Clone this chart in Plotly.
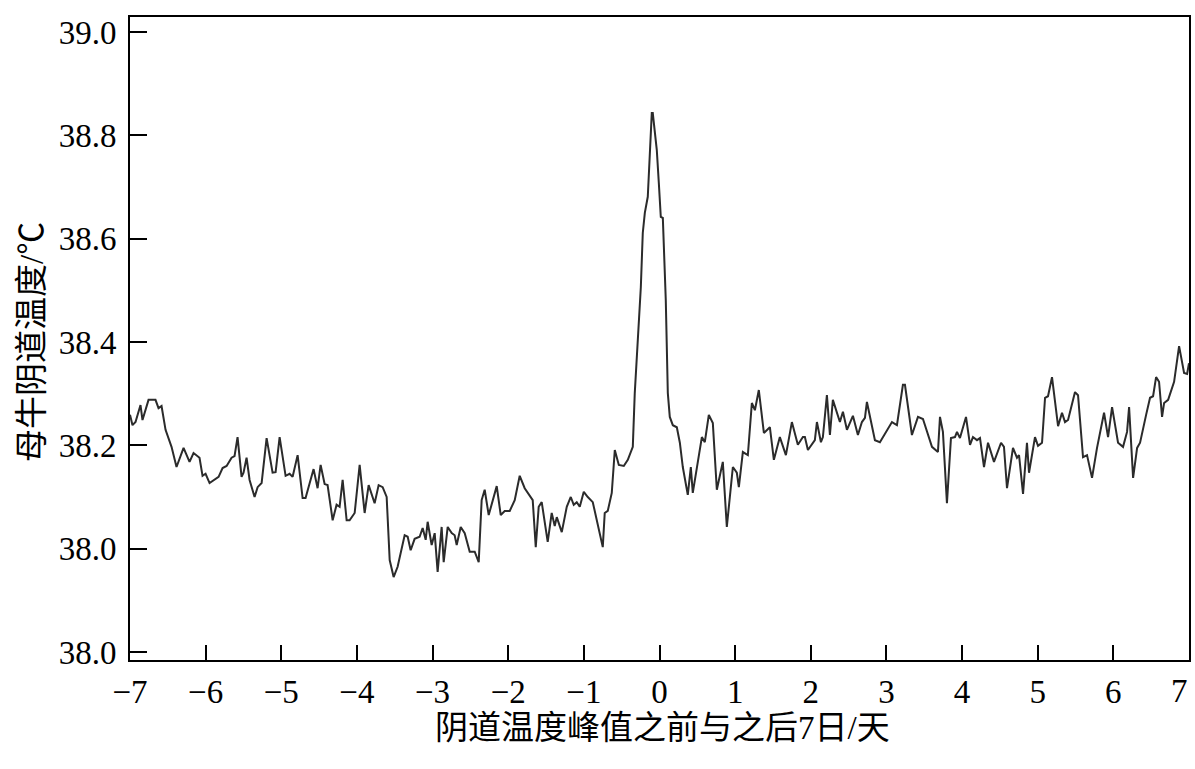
import plotly.graph_objects as go

# ---- data (days relative to temperature peak, vaginal temperature in degC)
days_pre = [-7.0, -6.967, -6.927, -6.861, -6.835, -6.755, -6.663, -6.623, -6.583, -6.530, -6.451, -6.385,
            -6.292, -6.213, -6.160, -6.081, -6.041, -6.001, -5.948, -5.856, -5.829, -5.776, -5.723, -5.657,
            -5.618, -5.578, -5.525, -5.499, -5.459, -5.419, -5.353, -5.313, -5.260, -5.194, -5.115, -5.075,
            -5.022, -4.943, -4.890, -4.850, -4.784,
            -4.718, -4.679, -4.573, -4.520, -4.480, -4.427, -4.388, -4.321, -4.269, -4.229, -4.189, -4.136,
            -4.097, -4.030, -3.964, -3.898, -3.845, -3.766, -3.713, -3.660, -3.607, -3.567, -3.515, -3.462,
            -3.369, -3.329, -3.290, -3.237, -3.171, -3.131, -3.091, -3.065, -3.012, -2.972, -2.933, -2.880,
            -2.853, -2.800, -2.747, -2.708, -2.681, -2.628, -2.575, -2.509,
            -2.443, -2.390, -2.351, -2.311, -2.258, -2.152, -2.099, -2.046, -1.980, -1.914, -1.848, -1.782,
            -1.676, -1.636, -1.597, -1.557, -1.478, -1.425, -1.385, -1.358, -1.292, -1.226, -1.173, -1.134,
            -1.094, -1.054, -1.001, -0.948, -0.882, -0.829, -0.750, -0.724, -0.684, -0.631, -0.591, -0.538,
            -0.472, -0.419, -0.353, -0.327]
temp_pre = [38.259, 38.239, 38.245, 38.278, 38.249, 38.288, 38.288, 38.272, 38.276, 38.230, 38.197, 38.158,
            38.195, 38.168, 38.185, 38.176, 38.141, 38.145, 38.127, 38.137, 38.139, 38.156, 38.160, 38.176,
            38.179, 38.216, 38.139, 38.147, 38.176, 38.133, 38.100, 38.119, 38.127, 38.214, 38.147, 38.148,
            38.216, 38.141, 38.145, 38.139, 38.181,
            38.098, 38.098, 38.154, 38.117, 38.162, 38.125, 38.123, 38.055, 38.085, 38.081, 38.133, 38.055,
            38.055, 38.069, 38.162, 38.069, 38.123, 38.088, 38.123, 38.119, 38.100, 37.978, 37.945, 37.965,
            38.026, 38.023, 37.997, 38.019, 38.023, 38.040, 38.017, 38.052, 38.007, 38.030, 37.955, 38.042,
            37.974, 38.042, 38.030, 38.026, 38.007, 38.042, 38.030, 37.994,
            37.994, 37.974, 38.094, 38.114, 38.065, 38.121, 38.065, 38.073, 38.073, 38.094, 38.141, 38.117,
            38.094, 38.003, 38.081, 38.090, 38.013, 38.069, 38.044, 38.061, 38.032, 38.081, 38.100, 38.085,
            38.090, 38.081, 38.110, 38.100, 38.090, 38.055, 38.003, 38.069, 38.073, 38.108, 38.191, 38.162,
            38.160, 38.172, 38.197, 38.301]

days_peak = [-0.287, -0.247, -0.221, -0.194, -0.155, -0.128, -0.102, -0.089, -0.036, -0.009, 0.017, 0.044,
             0.083, 0.110, 0.136, 0.176, 0.229, 0.269, 0.308, 0.374, 0.414, 0.440, 0.493, 0.560, 0.599, 0.652]
temp_peak = [38.417, 38.506, 38.611, 38.650, 38.681, 38.752, 38.843, 38.843, 38.772, 38.708, 38.642, 38.640,
             38.481, 38.301, 38.255, 38.239, 38.235, 38.205, 38.158, 38.104, 38.158, 38.108, 38.152, 38.216,
             38.206, 38.259]

days_post = [0.705, 0.758, 0.837, 0.890, 0.970, 1.022, 1.049, 1.102, 1.168, 1.221, 1.261, 1.313, 1.380,
             1.459, 1.512, 1.591, 1.671, 1.750, 1.829, 1.896, 1.922, 1.962, 2.054, 2.081, 2.134, 2.160,
             2.213, 2.253, 2.292, 2.385, 2.425, 2.478, 2.557, 2.623, 2.676, 2.716, 2.742,
             2.848, 2.914, 3.073, 3.139, 3.218, 3.245, 3.337, 3.417, 3.483, 3.602, 3.681, 3.708, 3.747,
             3.800, 3.853, 3.906, 3.933, 3.972, 4.052, 4.105, 4.144, 4.197, 4.237, 4.290, 4.343, 4.422,
             4.515, 4.554, 4.594, 4.673, 4.726, 4.753, 4.806, 4.858, 4.885,
             4.964, 5.004, 5.057, 5.097, 5.136, 5.189, 5.269, 5.321, 5.361, 5.401, 5.493, 5.533, 5.599,
             5.652, 5.718, 5.784, 5.877, 5.930, 5.983, 6.062, 6.128, 6.181, 6.208, 6.261, 6.314, 6.353,
             6.433, 6.485, 6.525, 6.565, 6.604, 6.644, 6.671, 6.724, 6.803, 6.869, 6.935, 6.975, 7.0]
temp_post = [38.243, 38.114, 38.168, 38.042, 38.158, 38.147, 38.119, 38.187, 38.181, 38.282, 38.268, 38.307,
             38.224, 38.235, 38.172, 38.216, 38.181, 38.245, 38.201, 38.216, 38.216, 38.191, 38.210, 38.245,
             38.206, 38.216, 38.297, 38.220, 38.288, 38.245, 38.265, 38.230, 38.257, 38.220, 38.245, 38.253,
             38.284,
             38.210, 38.206, 38.245, 38.239, 38.317, 38.317, 38.220, 38.255, 38.251, 38.197, 38.187, 38.255,
             38.226, 38.088, 38.214, 38.216, 38.226, 38.214, 38.255, 38.201, 38.216, 38.210, 38.214, 38.158,
             38.205, 38.168, 38.205, 38.197, 38.117, 38.195, 38.176, 38.181, 38.106, 38.205, 38.147,
             38.216, 38.199, 38.205, 38.292, 38.295, 38.332, 38.237, 38.263, 38.245, 38.249, 38.303, 38.297,
             38.177, 38.181, 38.137, 38.195, 38.263, 38.216, 38.274, 38.205, 38.197, 38.226, 38.274, 38.137,
             38.195, 38.205, 38.259, 38.292, 38.295, 38.332, 38.323, 38.255, 38.282, 38.288, 38.323, 38.392,
             38.340, 38.338, 38.359]

x_ticks = [-7, -6, -5, -4, -3, -2, -1, 0, 1, 2, 3, 4, 5, 6, 7]
x_ticktext = ["\u22127", "\u22126", "\u22125", "\u22124", "\u22123", "\u22122", "\u22121",
              "0", "1", "2", "3", "4", "5", "6", ""]
x_last_label = "7"   # the last label sits just inside the right edge, as in the reference
y_tickvals = [37.8, 38.0, 38.2, 38.4, 38.6, 38.8, 39.0]
y_ticktext = ["38.0", "38.0", "38.2", "38.4", "38.6", "38.8", "39.0"]

x_title = "阴道温度峰值之前与之后7日/天"
y_title = "母牛阴道温度/℃"

days = days_pre + days_peak + days_post
temp = temp_pre + temp_peak + temp_post

FONT = "Liberation Serif, Times New Roman, Noto Sans CJK SC, serif"

fig = go.Figure()
fig.add_trace(go.Scatter(x=days, y=temp, mode="lines",
                         line=dict(color="#2b2b2b", width=2), showlegend=False,
                         hoverinfo="x+y"))

fig.update_layout(
    width=1195, height=769,
    margin=dict(l=130, r=6, t=17, b=109, autoexpand=False),
    paper_bgcolor="white", plot_bgcolor="white",
    font=dict(family=FONT, size=33, color="black"),
    showlegend=False,
)

fig.update_xaxes(
    range=[-7, 7], tickvals=x_ticks, ticktext=x_ticktext,
    ticks="inside", ticklen=15, tickwidth=2, tickcolor="black",
    showline=True, linewidth=2, linecolor="black", mirror=True, automargin=False,
    showgrid=False, zeroline=False, ticklabelstandoff=1, ticklabeloverflow="allow",
    tickfont=dict(family=FONT, size=33, color="black"),
)
fig.update_yaxes(
    range=[37.7845, 39.029], tickvals=y_tickvals, ticktext=y_ticktext,
    ticks="inside", ticklen=17, tickwidth=2, tickcolor="black",
    showline=True, linewidth=2, linecolor="black", mirror=True, automargin=False,
    showgrid=False, zeroline=False, ticklabelstandoff=5, ticklabeloverflow="allow",
    tickfont=dict(family=FONT, size=33, color="black"),
)

fig.add_annotation(text=x_last_label, xref="x", yref="paper", x=x_ticks[-1], y=0,
                   xanchor="right", yanchor="middle", xshift=1, yshift=-31, showarrow=False,
                   font=dict(family=FONT, size=33, color="black"))
fig.add_annotation(text=x_title, xref="paper", yref="paper", x=0.503, y=0,
                   xanchor="center", yanchor="middle", yshift=-68, showarrow=False,
                   font=dict(family=FONT, size=33, color="black"))
fig.add_annotation(text=y_title, xref="paper", yref="paper", x=0, y=0.4946,
                   xanchor="center", yanchor="middle", xshift=-98, textangle=-90, showarrow=False,
                   font=dict(family=FONT, size=33, color="black"))

fig.write_html("out.html", config={"displayModeBar": False},
               post_script="document.body.style.margin='0';")
